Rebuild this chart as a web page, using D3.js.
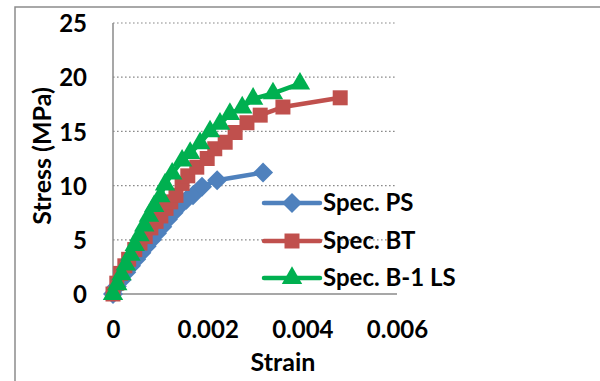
<!DOCTYPE html>
<html><head><meta charset="utf-8">
<script src="https://cdn.jsdelivr.net/npm/d3@7"></script>
<style>html,body{margin:0;padding:0;background:#fff;}svg{display:block;}text{font-family:Lato,"Open Sans",sans-serif;font-weight:bold;fill:#000;}</style>
</head><body>
<script>
// ---- data ----
const seriesNames = ["Spec. PS", "Spec. BT", "Spec. B-1 LS"];
const psStrain = [0,0.00008,0.00018,0.00028,0.00038,0.00049,0.0006,0.00071,0.00082,0.00093,0.00104,0.00116,0.00128,0.0014,0.00155,0.00169,0.00188,0.0022,0.00317];
const psStress = [0,0.7,1.3,2.0,2.6,3.2,3.8,4.4,5.0,5.6,6.2,6.9,7.5,8.1,8.7,9.1,9.9,10.5,11.2];
const btStrain = [0,0.00008,0.00016,0.00025,0.00033,0.00046,0.00057,0.00068,0.0008,0.00091,0.00101,0.00112,0.00122,0.00133,0.00146,0.00158,0.00177,0.00199,0.00215,0.00237,0.00258,0.00283,0.00311,0.00359,0.0048];
const btStress = [0,1.0,1.9,2.6,3.2,4.1,4.7,5.3,6.1,6.7,7.2,7.9,8.5,9.1,10.2,10.9,11.7,12.5,13.4,14.0,14.9,15.8,16.5,17.25,18.1];
const lsStrain = [0,0.00009,0.00018,0.00027,0.00037,0.00046,0.00056,0.00066,0.00076,0.00087,0.001,0.0011,0.00125,0.00146,0.00163,0.00184,0.00205,0.00226,0.00247,0.00273,0.00296,0.00338,0.00395];
const lsStress = [0,0.9,1.8,2.7,3.6,4.5,5.4,6.3,7.2,8.1,9.0,10.1,11.1,12.3,13.0,13.9,15.0,15.7,16.6,17.2,18.0,18.5,19.4];
const xTicks = [0, 0.002, 0.004, 0.006];
const xTickLabels = ["0", "0.002", "0.004", "0.006"];
const yTicks = [0, 5, 10, 15, 20, 25];

const W = 600, H = 381;
const svg = d3.select("body").append("svg").attr("width", W).attr("height", H);

// chart border (cropped)
svg.append("path").attr("d", `M15,${H} L15,7 L${W},7`).attr("fill","none").attr("stroke","#8c8c8c").attr("stroke-width",1.5);

const x = d3.scaleLinear().domain([0, 0.006]).range([113, 397]);
const y = d3.scaleLinear().domain([0, 25]).range([294, 23]);

// gridlines
svg.append("g").selectAll("line").data(yTicks.filter(d => d > 0)).join("line")
  .attr("x1", x(0)).attr("x2", x(0.006)).attr("y1", d => y(d)).attr("y2", d => y(d))
  .attr("stroke", "#8a8a8a").attr("stroke-width", 1.2).attr("stroke-dasharray", "1.6,2.4");

// axes lines
svg.append("line").attr("x1", x(0)).attr("x2", x(0)).attr("y1", y(25)).attr("y2", y(0)).attr("stroke","#8a8a8a").attr("stroke-width",1.5);
svg.append("line").attr("x1", x(0)).attr("x2", x(0.006)).attr("y1", y(0)).attr("y2", y(0)).attr("stroke","#8a8a8a").attr("stroke-width",1.5);

// tick labels via axes
const yAxis = d3.axisLeft(y).tickValues(yTicks).tickSize(0).tickPadding(26);
const gy = svg.append("g").attr("transform", `translate(${x(0)},0)`).call(yAxis);
gy.select(".domain").remove();
gy.selectAll("text").attr("font-size", 24).attr("dy", "0.36em");

const xAxis = d3.axisBottom(x).tickValues(xTicks).tickFormat((d,i) => xTickLabels[i]).tickSize(0).tickPadding(27);
const gx = svg.append("g").attr("transform", `translate(0,${y(0)})`).call(xAxis);
gx.select(".domain").remove();
gx.selectAll("text").attr("font-size", 24).attr("dy", "0.71em");
gx.attr("font-family", null); gy.attr("font-family", null);

// axis titles
svg.append("text").attr("x", 283).attr("y", 371).attr("text-anchor","middle").attr("font-size", 25).text("Strain");
svg.append("text").attr("transform", "translate(51,156) rotate(-90)").attr("text-anchor","middle").attr("font-size", 25).text("Stress (MPa)");

// series
const colors = ["#4F81BD", "#C0504D", "#00B050"];
const symbols = [
  d3.symbol().type(d3.symbolSquare).size(200)(),
  d3.symbol().type(d3.symbolSquare).size(225)(),
  d3.symbol().type(d3.symbolTriangle).size(180)()
];
const rot = [45, 0, 0];
const data = [
  psStrain.map((s,i) => [s, psStress[i]]),
  btStrain.map((s,i) => [s, btStress[i]]),
  lsStrain.map((s,i) => [s, lsStress[i]])
];
const line = d3.line().x(d => x(d[0])).y(d => y(d[1]));
data.forEach((pts, k) => {
  const g = svg.append("g");
  g.append("path").attr("d", line(pts)).attr("fill","none").attr("stroke", colors[k]).attr("stroke-width", 4.5).attr("stroke-linejoin","round");
  g.selectAll("path.m").data(pts).join("path").attr("class","m")
    .attr("d", symbols[k]).attr("fill", colors[k])
    .attr("transform", d => `translate(${x(d[0])},${y(d[1])}) rotate(${rot[k]})`);
});

// legend
const legY = [203, 241, 278];
seriesNames.forEach((name, k) => {
  const g = svg.append("g").attr("transform", `translate(0,${legY[k]})`);
  g.append("line").attr("x1", 264).attr("x2", 320).attr("y1", 0).attr("y2", 0).attr("stroke", colors[k]).attr("stroke-width", 4.5).attr("stroke-linecap","round");
  g.append("path").attr("d", symbols[k]).attr("fill", colors[k]).attr("transform", `translate(292,0) rotate(${rot[k]})`);
  g.append("text").attr("x", 323).attr("y", 0).attr("dy","0.35em").attr("font-size", 24).text(name);
});
</script>
</body></html>
